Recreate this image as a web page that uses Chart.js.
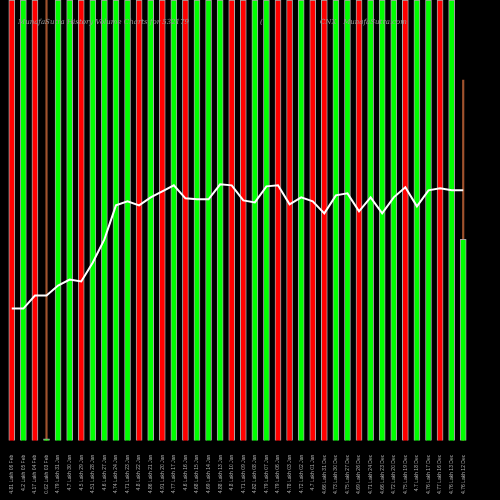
<!DOCTYPE html>
<html>
<head>
<script src="https://cdn.jsdelivr.net/npm/chart.js@4"></script>
<style>
  html, body { margin: 0; padding: 0; background: #000; }
  #wrap { width: 500px; height: 500px; }
</style>
</head>
<body>
<div id="wrap"><canvas id="chart"></canvas></div>
<script>
const labels = [
    "4.81 Lakh 06 Feb", "4.2 Lakh 05 Feb", "4.17 Lakh 04 Feb", "0.02 Lakh 03 Feb",
    "4.79 Lakh 31 Jan", "4.7 Lakh 30 Jan", "4.5 Lakh 29 Jan", "4.51 Lakh 28 Jan",
    "4.6 Lakh 27 Jan", "4.74 Lakh 24 Jan", "4.71 Lakh 23 Jan", "4.8 Lakh 22 Jan",
    "4.86 Lakh 21 Jan", "4.91 Lakh 20 Jan", "4.77 Lakh 17 Jan", "4.6 Lakh 16 Jan",
    "4.68 Lakh 15 Jan", "4.69 Lakh 14 Jan", "4.88 Lakh 13 Jan", "4.8 Lakh 10 Jan",
    "4.71 Lakh 09 Jan", "4.82 Lakh 08 Jan", "4.79 Lakh 07 Jan", "4.79 Lakh 06 Jan",
    "4.78 Lakh 03 Jan", "4.72 Lakh 02 Jan", "4.7 Lakh 01 Jan", "4.66 Lakh 31 Dec",
    "4.73 Lakh 30 Dec", "4.75 Lakh 27 Dec", "4.69 Lakh 26 Dec", "4.71 Lakh 24 Dec",
    "4.66 Lakh 23 Dec", "4.72 Lakh 20 Dec", "4.75 Lakh 19 Dec", "4.7 Lakh 18 Dec",
    "4.76 Lakh 17 Dec", "4.77 Lakh 16 Dec", "4.76 Lakh 13 Dec", "4.76 Lakh 12 Dec"
];
const volumes = [440, 440, 440, 2, 440, 440, 440, 440, 440, 440, 440, 440, 440, 440, 440, 440,
    440, 440, 440, 440, 440, 440, 440, 440, 440, 440, 440, 440, 440, 440, 440, 440,
    440, 440, 440, 440, 440, 440, 440, 201];
const upDay = ["r", "g", "r", "g", "g", "g", "r", "g", "g", "g", "g", "r", "g", "r", "g", "r",
    "g", "g", "g", "r", "r", "g", "g", "r", "r", "g", "r", "r", "g", "g", "r", "g",
    "g", "g", "r", "g", "g", "r", "g", "g"];
const spikes = [null, null, null, 440, null, null, null, null, null, null, null, null, null, null, null, null,
    null, null, null, null, null, null, null, null, null, null, null, null, null, null, null, null,
    null, null, null, null, null, null, null, 360];
const priceLine = [132, 132, 145, 145, 155, 161, 159, 178, 201, 235, 239, 235, 243, 249, 255, 242,
    241, 241, 256, 255, 240, 238, 254, 255, 236, 243, 239, 227, 245, 247, 229, 243,
    227, 243, 253, 234, 250, 252, 250, 250];

const titlePlugin = {
    id: "titleText",
    afterDatasetsDraw(c) {
        const ctx = c.ctx;
        ctx.save();
        ctx.font = "italic 7px 'DejaVu Serif'";
        ctx.fillStyle = "#999";
        ctx.fillText("MunafaSutra History Volume Charts for 532179", 18, 24);
        ctx.fillText("(", 260, 24);
        ctx.fillText("CNX   MunafaSutra.com", 320, 24);
        ctx.restore();
    }
};

new Chart(document.getElementById("chart"), {
    data: {
        labels,
        datasets: [
            {
                type: "line",
                data: priceLine,
                borderColor: "#fff",
                borderWidth: 2,
                pointRadius: 0,
                tension: 0,
                order: 0
            },
            {
                type: "bar",
                data: spikes,
                backgroundColor: "#a0522d",
                barThickness: 1.5,
                grouped: false,
                order: 2
            },
            {
                type: "bar",
                data: volumes,
                backgroundColor: upDay.map(u => u === "g" ? "#00ff00" : "#ff0000"),
                borderColor: "#aaa",
                borderWidth: 1,
                barThickness: 6,
                grouped: false,
                order: 1
            }
        ]
    },
    options: {
        animation: false,
        responsive: true,
        maintainAspectRatio: false,
        layout: { padding: { left: 6, right: 31, top: 0, bottom: 0 } },
        plugins: { legend: { display: false }, tooltip: { enabled: false } },
        scales: {
            x: {
                grid: { display: false },
                border: { display: false },
                ticks: { color: "#aaa", font: { size: 5 }, padding: 6, minRotation: 90, maxRotation: 90, autoSkip: false }
            },
            y: {
                display: false,
                min: 0,
                max: 440
            }
        }
    },
    plugins: [titlePlugin]
});
</script>
</body>
</html>
